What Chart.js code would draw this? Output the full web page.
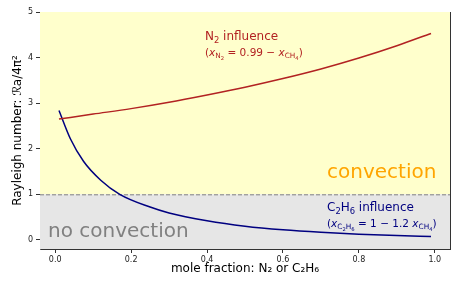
<!DOCTYPE html>
<html>
<head>
<meta charset="utf-8">
<script src="https://cdn.jsdelivr.net/npm/chart.js@4"></script>
<style>
  html, body { margin: 0; padding: 0; background: #fff; }
  #wrap { width: 463px; height: 290px; }
</style>
</head>
<body>
<div id="wrap"><canvas id="chart" width="463" height="290"></canvas></div>
<script>
// values
const n2Fraction = [0.01, 0.1, 0.2, 0.3, 0.4, 0.5, 0.6, 0.7, 0.8, 0.9, 0.99];
const n2Rayleigh = [2.65, 2.76, 2.88, 3.02, 3.18, 3.35, 3.54, 3.75, 3.99, 4.26, 4.53];

const c2h6Fraction = [0.01, 0.04, 0.075, 0.12, 0.17, 0.25, 0.3, 0.4, 0.5, 0.6, 0.7, 0.8, 0.9, 0.99];
const c2h6Rayleigh = [2.84, 2.22, 1.72, 1.31, 1.0, 0.72, 0.59, 0.42, 0.3, 0.22, 0.165, 0.125, 0.095, 0.075];

const xTicks = [0, 0.2, 0.4, 0.6, 0.8, 1.0];
const yTicks = [0, 1, 2, 3, 4, 5];
const threshold = 1;

const FONT = 'DejaVu Sans';
const red = '#b22222';
const navy = '#000080';

function toPoints(xs, ys) {
	return xs.map((x, i) => ({ x: x, y: ys[i] }));
}

// draw a run of text pieces: [text, kind] with kind n / i / s / ss
function drawRich(ctx, x, y, parts, size, color) {
	ctx.fillStyle = color;
	ctx.textBaseline = 'alphabetic';
	ctx.textAlign = 'left';
	for (const [text, kind] of parts) {
		let fs = size, dy = 0, style = '';
		if (kind === 'i') style = 'italic ';
		if (kind === 's') { fs = size * 0.7; dy = size * 0.22; }
		if (kind === 'ss') { fs = size * 0.5; dy = size * 0.36; }
		ctx.font = style + fs + 'px "' + FONT + '"';
		ctx.fillText(text, x, y + dy);
		x += ctx.measureText(text).width;
	}
}

const regionsPlugin = {
	id: 'regions',
	beforeDatasetsDraw(chart) {
		const { ctx, chartArea: a, scales } = chart;
		const yT = scales.y.getPixelForValue(threshold);
		ctx.save();
		ctx.fillStyle = '#ffffcc';
		ctx.fillRect(a.left, a.top, a.right - a.left, yT - a.top);
		ctx.fillStyle = '#e6e6e6';
		ctx.fillRect(a.left, yT, a.right - a.left, a.bottom - yT);
		ctx.strokeStyle = '#808080';
		ctx.lineWidth = 1;
		ctx.setLineDash([4, 2]);
		ctx.beginPath();
		ctx.moveTo(a.left, yT + 0.5);
		ctx.lineTo(a.right, yT + 0.5);
		ctx.stroke();
		ctx.restore();
	},
	afterDraw(chart) {
		const { ctx, chartArea: a } = chart;
		ctx.save();
		ctx.strokeStyle = '#333';
		ctx.lineWidth = 1;
		ctx.beginPath();
		ctx.moveTo(a.right + 0.5, a.top);
		ctx.lineTo(a.right + 0.5, a.bottom);
		ctx.stroke();

		ctx.font = '20px "' + FONT + '"';
		ctx.fillStyle = '#ffa500';
		ctx.fillText('convection', 327, 178);
		ctx.fillStyle = '#808080';
		ctx.fillText('no convection', 48, 237);

		drawRich(ctx, 205, 40, [['N', 'n'], ['2', 's'], [' influence', 'n']], 12, red);
		drawRich(ctx, 205, 56, [['(', 'n'], ['x', 'i'], ['N', 's'], ['2', 'ss'],
			[' = 0.99 \u2212 ', 'n'], ['x', 'i'], ['CH', 's'], ['4', 'ss'], [')', 'n']], 10.5, red);

		drawRich(ctx, 327, 211, [['C', 'n'], ['2', 's'], ['H', 'n'], ['6', 's'], [' influence', 'n']], 12, navy);
		drawRich(ctx, 327, 227, [['(', 'n'], ['x', 'i'], ['C', 's'], ['2', 'ss'], ['H', 's'], ['6', 'ss'],
			[' = 1 \u2212 1.2 ', 'n'], ['x', 'i'], ['CH', 's'], ['4', 'ss'], [')', 'n']], 10.5, navy);
		ctx.restore();
	},
};

new Chart(document.getElementById('chart'), {
	type: 'line',
	data: {
		datasets: [
			{
				label: 'N2 influence',
				data: toPoints(n2Fraction, n2Rayleigh),
				borderColor: red,
				borderWidth: 1.5,
				pointRadius: 0,
				cubicInterpolationMode: 'monotone',
			},
			{
				label: 'C2H6 influence',
				data: toPoints(c2h6Fraction, c2h6Rayleigh),
				borderColor: navy,
				borderWidth: 1.5,
				pointRadius: 0,
				cubicInterpolationMode: 'monotone',
			},
		],
	},
	options: {
		responsive: false,
		animation: false,
		layout: { padding: { top: 12, right: 13, left: 0, bottom: 0 } },
		plugins: { legend: { display: false }, tooltip: { enabled: false } },
		scales: {
			x: {
				type: 'linear',
				min: -0.04,
				max: 1.04,
				afterBuildTicks: (axis) => { axis.ticks = xTicks.map((v) => ({ value: v })); },
				afterFit: (axis) => { axis.height = 41; },
				ticks: {
					callback: (v) => v.toFixed(1),
					font: { family: FONT, size: 8 },
					color: '#222',
					padding: 2,
					maxRotation: 0,
				},
				grid: { drawOnChartArea: false, drawTicks: true, tickLength: 4, color: '#333' },
				border: { display: true, color: '#333', width: 1 },
				title: {
					display: true,
					text: 'mole fraction: N\u2082 or C\u2082H\u2086',
					font: { family: FONT, size: 12 },
					color: '#000',
					padding: { top: 0, bottom: 14 },
				},
			},
			y: {
				type: 'linear',
				min: -0.2,
				max: 5,
				afterBuildTicks: (axis) => { axis.ticks = yTicks.map((v) => ({ value: v })); },
				afterFit: (axis) => { axis.width = 40; },
				ticks: {
					font: { family: FONT, size: 8 },
					color: '#222',
					padding: 3,
				},
				grid: { drawOnChartArea: false, drawTicks: true, tickLength: 4, color: '#333' },
				border: { display: true, color: '#666', width: 1 },
				title: {
					display: true,
					text: 'Rayleigh number: \u211Ba/4\u03C0\u00B2',
					font: { family: FONT, size: 12 },
					color: '#000',
					padding: { top: 11, bottom: 0 },
				},
			},
		},
	},
	plugins: [regionsPlugin],
});
</script>
</body>
</html>
